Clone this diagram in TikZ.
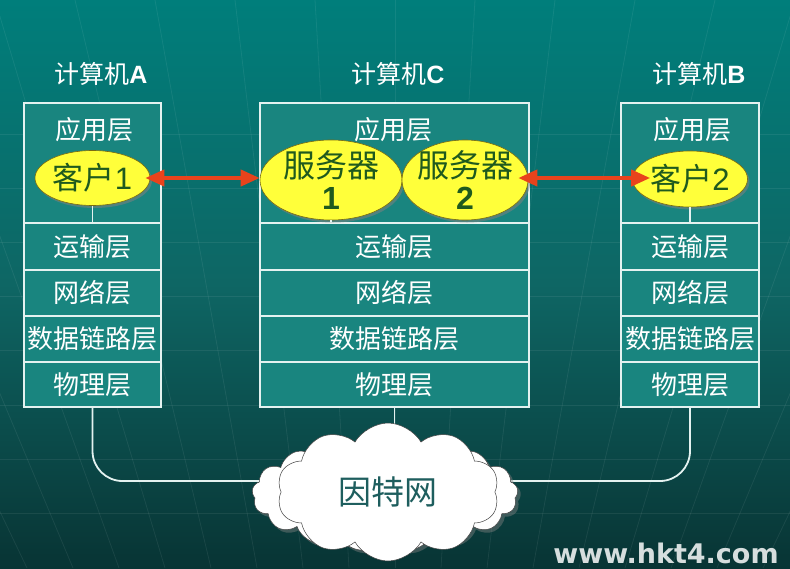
\documentclass[tikz,border=0pt]{standalone}
\usepackage{fontspec}
\setmainfont{Liberation Sans}
\newfontfamily\cjk{Noto Sans CJK SC}
\newfontfamily\wmfont{DejaVu Sans}
\usetikzlibrary{shapes.geometric,shapes.symbols,shadows,arrows.meta,calc}

\definecolor{bgtop}{HTML}{007E7B}
\definecolor{bgmid}{HTML}{0E6664}
\definecolor{bgbot}{HTML}{083434}
\definecolor{boxfill}{HTML}{19857F}
\definecolor{linew}{HTML}{E4F2F0}
\definecolor{ellfill}{HTML}{FFFF3A}
\definecolor{elledge}{HTML}{7A6A10}
\definecolor{elltext}{HTML}{1F5A1E}
\definecolor{arrred}{HTML}{E8431C}
\definecolor{cloudtext}{HTML}{1E5E5E}
\definecolor{wmcolor}{HTML}{D6DEDE}

\begin{document}
\begin{tikzpicture}[x=1pt,y=-1pt,
  layerbox/.style={draw=linew, line width=1.8pt, fill=boxfill, inner sep=0pt,
    font=\cjk\fontsize{26}{30}\selectfont, text=white},
  layertext/.style={inner sep=0pt, font=\cjk\fontsize{26}{30}\selectfont, text=white},
  title/.style={inner sep=0pt, font=\fontsize{25}{30}\selectfont, text=white},
  ellnode/.style={ellipse, fill=ellfill, draw=elledge, line width=0.6pt, inner sep=-20pt,
    text=elltext, align=center,
    drop shadow={opacity=0.55, shadow xshift=2pt, shadow yshift=-2.5pt}},
  conn/.style={draw=linew, line width=1.8pt},
  arr/.style={draw=arrred, line width=4pt,
    {Triangle[length=19pt,width=16pt]}-{Triangle[length=19pt,width=16pt]}},
  gridline/.style={draw=white, opacity=0.07, line width=0.8pt}
]
% background
\useasboundingbox (0,0) rectangle (790,568);
\fill[top color=bgtop, bottom color=bgbot, middle color=bgmid] (0,0) rectangle (790,568);
\foreach \y in {134,188,242,296,350,405,459,513}
  \draw[gridline] (0,\y) -- (790,\y);
\foreach \i in {-9,...,9}
  \draw[gridline] ({395+\i*80},0) -- ({395+\i*46},568);

% titles
\node[title] (tA) at (101,74) {{\cjk 计算机}\textbf{A}};
\node[title] (tC) at (398,74) {{\cjk 计算机}\textbf{C}};
\node[title] (tB) at (699,74) {{\cjk 计算机}\textbf{B}};

% computer A
\node[layerbox, minimum width=137pt, minimum height=120pt] (Aapp) at (92.5,163) {};
\node[layerbox, minimum width=137pt, minimum height=47pt] (Atr) at (92.5,246.5) {运输层};
\node[layerbox, minimum width=137pt, minimum height=46pt] (Anet) at (92.5,293) {网络层};
\node[layerbox, minimum width=137pt, minimum height=46pt] (Adl) at (92.5,339) {数据链路层};
\node[layerbox, minimum width=137pt, minimum height=45pt] (Aph) at (92.5,384.5) {物理层};
\node[layertext] (Aapptxt) at (94,130) {应用层};

% computer C
\node[layerbox, minimum width=269pt, minimum height=120pt] (Capp) at (394.5,163) {};
\node[layerbox, minimum width=269pt, minimum height=47pt] (Ctr) at (394.5,246.5) {运输层};
\node[layerbox, minimum width=269pt, minimum height=46pt] (Cnet) at (394.5,293) {网络层};
\node[layerbox, minimum width=269pt, minimum height=46pt] (Cdl) at (394.5,339) {数据链路层};
\node[layerbox, minimum width=269pt, minimum height=45pt] (Cph) at (394.5,384.5) {物理层};
\node[layertext] (Capptxt) at (393,130) {应用层};

% computer B
\node[layerbox, minimum width=138pt, minimum height=120pt] (Bapp) at (690,163) {};
\node[layerbox, minimum width=138pt, minimum height=47pt] (Btr) at (690,246.5) {运输层};
\node[layerbox, minimum width=138pt, minimum height=46pt] (Bnet) at (690,293) {网络层};
\node[layerbox, minimum width=138pt, minimum height=46pt] (Bdl) at (690,339) {数据链路层};
\node[layerbox, minimum width=138pt, minimum height=45pt] (Bph) at (690,384.5) {物理层};
\node[layertext] (Bapptxt) at (692,130) {应用层};

% ellipses
\node[ellnode, minimum width=115pt, minimum height=55pt, font=\fontsize{31}{32}\selectfont]
  (A1) at (92.5,178) {{\cjk 客户}1};
\node[ellnode, minimum width=142pt, minimum height=80pt, font=\fontsize{32}{32}\selectfont]
  (S1) at (331,180) {{\cjk 服务器}\\\textbf{1}};
\node[ellnode, minimum width=126pt, minimum height=80pt, font=\fontsize{32}{32}\selectfont]
  (S2) at (465,180) {{\cjk 服务器}\\\textbf{2}};
\node[ellnode, minimum width=115pt, minimum height=56pt, font=\fontsize{31}{32}\selectfont]
  (B1) at (690,179) {{\cjk 客户}2};

% ticks under ellipses
\draw[conn] (A1.south) -- (A1.south |- Atr.north);
\draw[conn] (B1.south) -- (B1.south |- Btr.north);
\draw[conn] (S1.south) -- (S1.south |- Ctr.north);

% arrows
\draw[arr, shorten <=-5pt] (A1.east) -- (A1.east -| S1.west);
\draw[arr, shorten <=-10pt, shorten >=-18pt] ($(S2.east)+(0,-2)$) -- ($(S2.east -| B1.west)+(0,-2)$);

% connections to internet
\coordinate (hub) at (387,481);
\draw[conn, rounded corners=30pt] (Aph.south) |- (hub);
\draw[conn, rounded corners=30pt] (Bph.south) |- (hub);
\draw[conn] (Cph.south) -- (Cph.south |- hub);

% cloud
\node[cloud, cloud puffs=17, cloud puff arc=120, aspect=2.5, minimum width=266pt, minimum height=114pt,
  fill=white, draw=black!75, line width=0.5pt,
  drop shadow={opacity=0.45, shadow xshift=3pt, shadow yshift=-3pt}] (netback) at (385,494) {};
\node[cloud, cloud puffs=10, cloud puff arc=120, aspect=1.6, minimum width=222pt, minimum height=138pt,
  fill=white, draw=black!75, line width=0.5pt, text=cloudtext,
  font=\cjk\fontsize{33}{36}\selectfont] (net) at (388,492) {因特网};

% watermark
\node[anchor=base, inner sep=0pt, text=wmcolor, font=\wmfont\bfseries\fontsize{27}{30}\selectfont]
  (wm) at (666,563) {www.hkt4.com};
\end{tikzpicture}
\end{document}
